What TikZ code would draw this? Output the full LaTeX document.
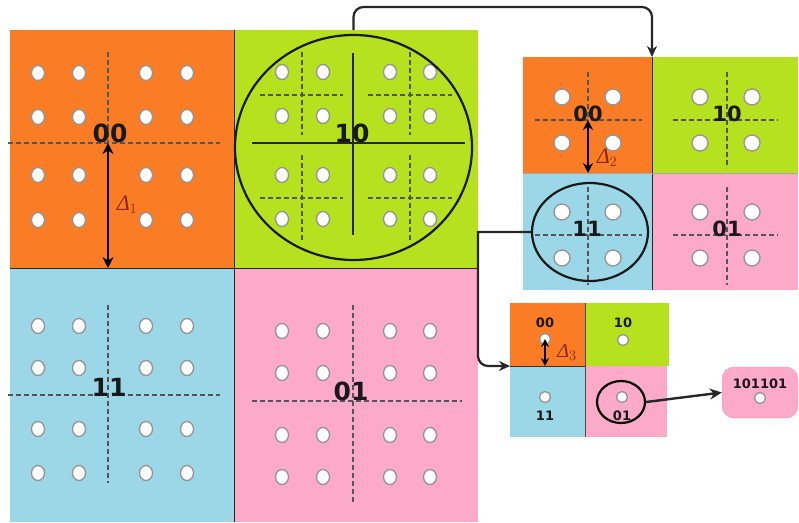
\documentclass[tikz,border=0pt]{standalone}
\usepackage{fontspec}
\setmainfont{DejaVu Sans}
\newfontfamily\deltafont{Liberation Serif}
\usetikzlibrary{arrows.meta,shapes.geometric}
\definecolor{qor}{RGB}{250,125,38}
\definecolor{qgr}{RGB}{181,225,30}
\definecolor{qbl}{RGB}{156,215,232}
\definecolor{qpk}{RGB}{252,170,200}
\definecolor{dcol}{RGB}{138,42,10}
\definecolor{dashc}{RGB}{85,85,85}
\begin{document}
\begin{tikzpicture}[x=1pt,y=-1pt,
 quad/.style={rectangle, inner sep=0pt, outer sep=0pt, draw=none},
 lab/.style={font=\bfseries\fontsize{#1}{#1}\selectfont, inner sep=0pt, text=black!90},
 dsh/.style={draw=dashc, line width=1.5pt, dash pattern=on 5pt off 3pt},
 hole/.style={draw=gray!85, fill=white, line width=1.3pt},
 conn/.style={draw=black!85, line width=2.2pt},
 dimarrow/.style={{Stealth[length=#1,width=#1]}-{Stealth[length=#1,width=#1]}, line width=2.2pt},
 dl/.style={text=dcol, font=\deltafont\itshape\fontsize{#1}{#1}\selectfont, inner sep=0pt},
 divider/.style={draw=black!85, line width=1pt}]
\useasboundingbox (0,0) rectangle (799,522);

% ---------- big grid ----------
\node[quad, fill=qor, minimum width=224pt, minimum height=238pt] (b00) at (122,149) {};
\node[quad, fill=qgr, minimum width=244pt, minimum height=238pt] (b10) at (356,149) {};
\node[quad, fill=qbl, minimum width=224pt, minimum height=254pt] (b11) at (122,395) {};
\node[quad, fill=qpk, minimum width=244pt, minimum height=254pt] (b01) at (356,395) {};
\draw[divider] (b00.north east) -- (b11.south east);
\draw[divider] (b00.south west) -- (b01.north east);

% dots
\foreach \x in {38,79,146,187} \foreach \y in {73,117,175,220,326,368,429,473}
  \draw[hole] (\x,\y) ellipse [x radius=6.5pt, y radius=7.5pt];
\foreach \x in {282,323,390,430} \foreach \y in {72,116,175,219,331,373,435,477}
  \draw[hole] (\x,\y) ellipse [x radius=6.5pt, y radius=7.5pt];

% dashed crosses
\draw[dsh] (108,52) -- (108,143);
\draw[dsh] (8,143) -- (220,143);
\draw[dsh] (8,395) -- (220,395);
\draw[dsh] (108,305) -- (108,483);
\draw[dsh] (252,401) -- (462,401);
\draw[dsh] (353,305) -- (353,504);
% green quadrant
\draw[dsh] (302,52) -- (302,135) (302,155) -- (302,240);
\draw[dsh] (410,52) -- (410,135) (410,155) -- (410,240);
\draw[dsh] (260,95) -- (343,95) (368,95) -- (452,95);
\draw[dsh] (260,198) -- (343,198) (368,198) -- (452,198);
\draw[black!85, line width=1.3pt] (252,143) -- (465,143) (353,53) -- (353,235);
\node[draw=black!90, ellipse, line width=2.2pt, minimum width=237pt, minimum height=225pt, inner sep=0pt] (bigcirc) at (353.5,147.5) {};

% labels
\node[lab=25] (t00) at (110,133) {00};
\node[lab=25] (t10) at (352,133) {10};
\node[lab=25] (t11) at (109,387) {11};
\node[lab=25] (t01) at (351,391) {01};

% Delta 1
\coordinate (a1) at (108,143);
\draw[dimarrow=11pt] (a1) -- (b00.south -| a1);
\node[dl=22] (d1) at (127,205) {Δ$_{1}$};

% ---------- middle grid ----------
\node[quad, fill=qor, minimum width=129pt, minimum height=116pt] (m00) at (587.5,115) {};
\node[quad, fill=qgr, minimum width=146pt, minimum height=116pt] (m10) at (725,115) {};
\node[quad, fill=qbl, minimum width=129pt, minimum height=117pt] (m11) at (587.5,231.5) {};
\node[quad, fill=qpk, minimum width=146pt, minimum height=117pt] (m01) at (725,231.5) {};
\draw[divider] (m00.north east) -- (m11.south east);
\draw[draw=gray!70, line width=0.8pt] (m00.south west) -- (m01.north east);

\foreach \x in {562,613,700,752} \foreach \y in {97,143,212,258}
  \draw[hole] (\x,\y) circle [radius=8pt];

\draw[dsh, line width=1.3pt] (535,120) -- (642,120) (588,72) -- (588,120);
\draw[dsh, line width=1.3pt] (673,120) -- (778,120) (727,72) -- (727,168);
\draw[dsh, line width=1.3pt] (535,235) -- (642,235) (588,187) -- (588,285);
\draw[dsh, line width=1.3pt] (673,235) -- (778,235) (727,187) -- (727,285);
\node[draw=black!90, ellipse, line width=2.2pt, minimum width=116pt, minimum height=98pt, inner sep=0pt] (midell) at (590,232) {};

\node[lab=21] (u00) at (588,114) {00};
\node[lab=21] (u10) at (727,114) {10};
\node[lab=21] (u11) at (587,229) {11};
\node[lab=21] (u01) at (727,229) {01};

\coordinate (a2) at (588,120);
\draw[dimarrow=10pt] (a2) -- (m00.south -| a2);
\node[dl=22] (d2) at (607,158) {Δ$_{2}$};

% ---------- small grid ----------
\node[quad, fill=qor, minimum width=75pt, minimum height=63pt] (s00) at (547.5,334.5) {};
\node[quad, fill=qgr, minimum width=84pt, minimum height=63pt] (s10) at (627,334.5) {};
\node[quad, fill=qbl, minimum width=75pt, minimum height=71pt] (s11) at (547.5,401.5) {};
\node[quad, fill=qpk, minimum width=82pt, minimum height=71pt] (s01) at (626,401.5) {};
\draw[draw=black!70, line width=0.9pt] (s00.north east) -- (s11.south east);
\draw[draw=black!80, line width=1pt] (s00.south west) -- (s00.south east);

\foreach \p in {(545,339),(623,340),(545,397),(622,397)}
  \draw[hole] \p circle [radius=5.5pt];

\node[lab=13] (v00) at (545,323) {00};
\node[lab=13] (v10) at (623,323) {10};
\node[lab=13] (v11) at (545,416) {11};
\node[lab=13] (v01) at (622,416) {01};

\coordinate (a3) at (545,339);
\draw[dimarrow=8pt, line width=2.4pt] (a3) -- (s00.south -| a3);
\node[dl=20] (d3) at (567,352) {Δ$_{3}$};

\node[draw=black, ellipse, line width=2.2pt, minimum width=48pt, minimum height=42pt, inner sep=0pt] (smallcirc) at (621,402) {};

% ---------- final box ----------
\node[rectangle, rounded corners=12pt, fill=qpk, draw=qpk!75!gray, minimum width=76pt, minimum height=51pt] (fin) at (760,392.5) {};
\node[lab=13] (w) at (760,384) {101101};
\draw[hole] (760,398) circle [radius=5.5pt];

% ---------- connectors ----------
\coordinate (c1) at (bigcirc.center |- b10.north);
\draw[conn, rounded corners=10pt, -{Stealth[length=11pt,width=10pt]}] (c1) -- ++(0,-23) -| (m00.north east);
\coordinate (c2) at (478,232);
\draw[conn, -{Stealth[length=11pt,width=10pt]}] (midell.west) -- (c2) [rounded corners=10pt] |- (s00.south west);
\draw[conn, line width=2.4pt, -{Stealth[length=12pt,width=11pt]}] (smallcirc.east) -- (fin.west);
\end{tikzpicture}
\end{document}
